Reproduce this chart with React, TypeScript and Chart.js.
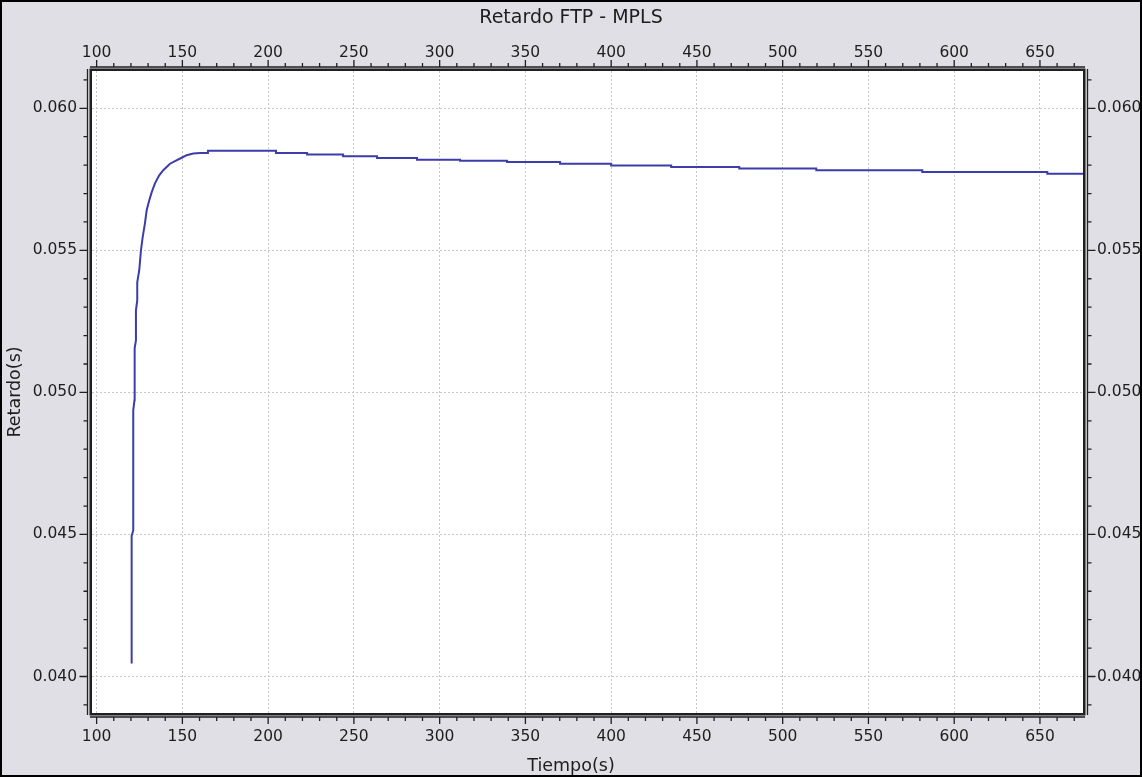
import React, { useEffect, useRef } from 'react';
import { Chart, registerables } from 'chart.js';

Chart.register(...registerables);

const chartTitle = 'Retardo FTP - MPLS';
const xAxisTitle = 'Tiempo(s)';
const yAxisTitle = 'Retardo(s)';

const xMin = 97.3;
const xMax = 675.1;
const yMin = 0.038715;
const yMax = 0.061313;
const xMinorStep = 10;
const xMajorStep = 50;
const yMinorStep = 0.001;
const yMajorStep = 0.005;

// rising part of the curve (time in s, delay in s)
const riseTime = [120.42, 120.42, 121.35, 121.35, 122.05, 122.17, 122.92, 122.92, 123.68, 123.68, 124.85, 125.84, 126.83, 128.17, 129.17, 130.68, 132.08, 134.0, 136.5, 138.85, 142.76, 145.67, 149.58, 152.5, 156.35, 160.26];
const riseDelay = [0.04046, 0.04496, 0.04514, 0.04937, 0.04972, 0.05155, 0.05183, 0.05289, 0.05324, 0.05387, 0.0543, 0.055, 0.05546, 0.05595, 0.05641, 0.05676, 0.05704, 0.05736, 0.05764, 0.05782, 0.05805, 0.05814, 0.05826, 0.05835, 0.05841, 0.05843];

// slowly decreasing stepped tail (each point = start of a level)
const tailTime = [160.26, 164.9, 204.6, 222.7, 243.7, 263.5, 286.8, 311.9, 339.3, 370.2, 400.0, 435.0, 474.7, 519.6, 581.4, 654.3, 675.1];
const tailDelay = [0.05843, 0.05851, 0.05843, 0.05837, 0.05831, 0.05825, 0.05819, 0.05815, 0.05811, 0.05805, 0.05799, 0.05793, 0.05788, 0.05782, 0.05776, 0.0577, 0.0577];

const FONT = "'DejaVu Sans', Verdana, sans-serif";
const TEXT = '#1e1e1e';
const LINE = '#3d3daa';
const GRID = '#c8c8c8';

const isMajor = (v: number, step: number) => Math.abs(v / step - Math.round(v / step)) < 1e-6;

const framePlugin = {
  id: 'frameAxes',
  beforeDraw(chart: any) {
    const { ctx, width, height, chartArea: a } = chart;
    ctx.save();
    ctx.fillStyle = '#dfdfe5';
    ctx.fillRect(0, 0, width, height);
    ctx.fillStyle = '#ffffff';
    ctx.fillRect(a.left, a.top, a.right - a.left, a.bottom - a.top);
    ctx.strokeStyle = '#000000';
    ctx.lineWidth = 2;
    ctx.strokeRect(1, 1, width - 2, height - 2);
    ctx.restore();
  },
  afterDraw(chart: any) {
    const { ctx, chartArea: a, scales } = chart;
    ctx.save();
    ctx.strokeStyle = '#202020';
    ctx.lineWidth = 2.5;
    ctx.strokeRect(a.left - 1.25, a.top - 1.25, a.right - a.left + 2.5, a.bottom - a.top + 2.5);
    ctx.lineWidth = 1.3;
    const offH = 4.5;
    const offV = 4;
    const L = a.left - offH;
    const R = a.right + offH;
    const T = a.top - offV;
    const B = a.bottom + offV;
    ctx.beginPath();
    ctx.moveTo(a.left - 2, T); ctx.lineTo(a.right + 2, T);
    ctx.moveTo(a.left - 2, B); ctx.lineTo(a.right + 2, B);
    ctx.moveTo(L, a.top - 2); ctx.lineTo(L, a.bottom + 2);
    ctx.moveTo(R, a.top - 2); ctx.lineTo(R, a.bottom + 2);
    const sx = scales.x;
    sx.ticks.forEach((t: any) => {
      const p = sx.getPixelForValue(t.value);
      const len = isMajor(t.value, xMajorStep) ? 7 : 4;
      ctx.moveTo(p, B); ctx.lineTo(p, B + len);
      ctx.moveTo(p, T); ctx.lineTo(p, T - len);
    });
    const sy = scales.y;
    sy.ticks.forEach((t: any) => {
      const p = sy.getPixelForValue(t.value);
      const len = isMajor(t.value, yMajorStep) ? 8 : 4;
      ctx.moveTo(L, p); ctx.lineTo(L - len, p);
      ctx.moveTo(R, p); ctx.lineTo(R + len, p);
    });
    ctx.stroke();
    ctx.restore();
  },
};

export default function App() {
  const ref = useRef<HTMLCanvasElement>(null);
  useEffect(() => {
    document.body.style.margin = '0';
    const tickFont = { family: FONT, size: 15.5 };
    const xLabel = (v: any) => (isMajor(Number(v), xMajorStep) ? String(Math.round(Number(v))) : '');
    const yLabel = (v: any) => (isMajor(Number(v), yMajorStep) ? Number(v).toFixed(3) : '');
    const chart = new Chart(ref.current as HTMLCanvasElement, {
      type: 'line',
      data: {
        datasets: [
          {
            data: riseTime.map((t, i) => ({ x: t, y: riseDelay[i] })),
            borderColor: LINE,
            borderWidth: 2,
            pointRadius: 0,
            tension: 0,
          },
          {
            data: tailTime.map((t, i) => ({ x: t, y: tailDelay[i] })),
            borderColor: LINE,
            borderWidth: 2,
            pointRadius: 0,
            stepped: 'before',
          },
        ],
      },
      options: {
        animation: false,
        responsive: false,
        devicePixelRatio: 1,
        layout: { padding: 0 },
        plugins: {
          legend: { display: false },
          tooltip: { enabled: false },
          title: { display: true, text: chartTitle, color: TEXT, font: { family: FONT, size: 19, weight: 'normal' }, padding: { top: 6.6, bottom: 0 } },
          subtitle: { display: true, position: 'bottom', text: xAxisTitle, color: TEXT, font: { family: FONT, size: 17.5, weight: 'normal' }, padding: { top: 0, bottom: 0.5 } },
        },
        scales: {
          x: {
            type: 'linear',
            position: 'bottom',
            min: xMin,
            max: xMax,
            ticks: { stepSize: xMinorStep, autoSkip: false, includeBounds: false, maxRotation: 0, minRotation: 0, padding: 15, color: TEXT, font: tickFont, callback: xLabel },
            grid: { drawTicks: false, lineWidth: 1, color: (c: any) => (c.tick && isMajor(c.tick.value, xMajorStep) ? GRID : 'rgba(0,0,0,0)') },
            border: { display: false, dash: [2, 2] },
            afterFit: (s: any) => { s.height = 42.5; },
          },
          x2: {
            type: 'linear',
            position: 'top',
            min: xMin,
            max: xMax,
            ticks: { stepSize: xMinorStep, autoSkip: false, includeBounds: false, maxRotation: 0, minRotation: 0, padding: 9, color: TEXT, font: tickFont, callback: xLabel },
            grid: { display: false, drawTicks: false },
            border: { display: false },
            afterFit: (s: any) => { s.height = 41.6; },
          },
          y: {
            type: 'linear',
            position: 'left',
            min: yMin,
            max: yMax,
            ticks: { stepSize: yMinorStep, autoSkip: false, includeBounds: false, padding: 15, color: TEXT, font: tickFont, callback: yLabel },
            grid: { drawTicks: false, lineWidth: 1, color: (c: any) => (c.tick && isMajor(c.tick.value, yMajorStep) ? GRID : 'rgba(0,0,0,0)') },
            border: { display: false, dash: [2, 2] },
            title: { display: true, text: yAxisTitle, color: TEXT, font: { family: FONT, size: 17.5 }, padding: { top: 4.5, bottom: 0 } },
            afterFit: (s: any) => { s.width = 92; },
          },
          y2: {
            type: 'linear',
            position: 'right',
            min: yMin,
            max: yMax,
            ticks: { stepSize: yMinorStep, autoSkip: false, includeBounds: false, padding: 14, color: TEXT, font: tickFont, callback: yLabel },
            grid: { display: false, drawTicks: false },
            border: { display: false },
            afterFit: (s: any) => { s.width = 59; },
          },
        },
      } as any,
      plugins: [framePlugin],
    });
    return () => chart.destroy();
  }, []);
  return (
    <div style={{ width: 1142, height: 777 }}>
      <canvas ref={ref} width={1142} height={777} style={{ display: 'block' }} />
    </div>
  );
}
